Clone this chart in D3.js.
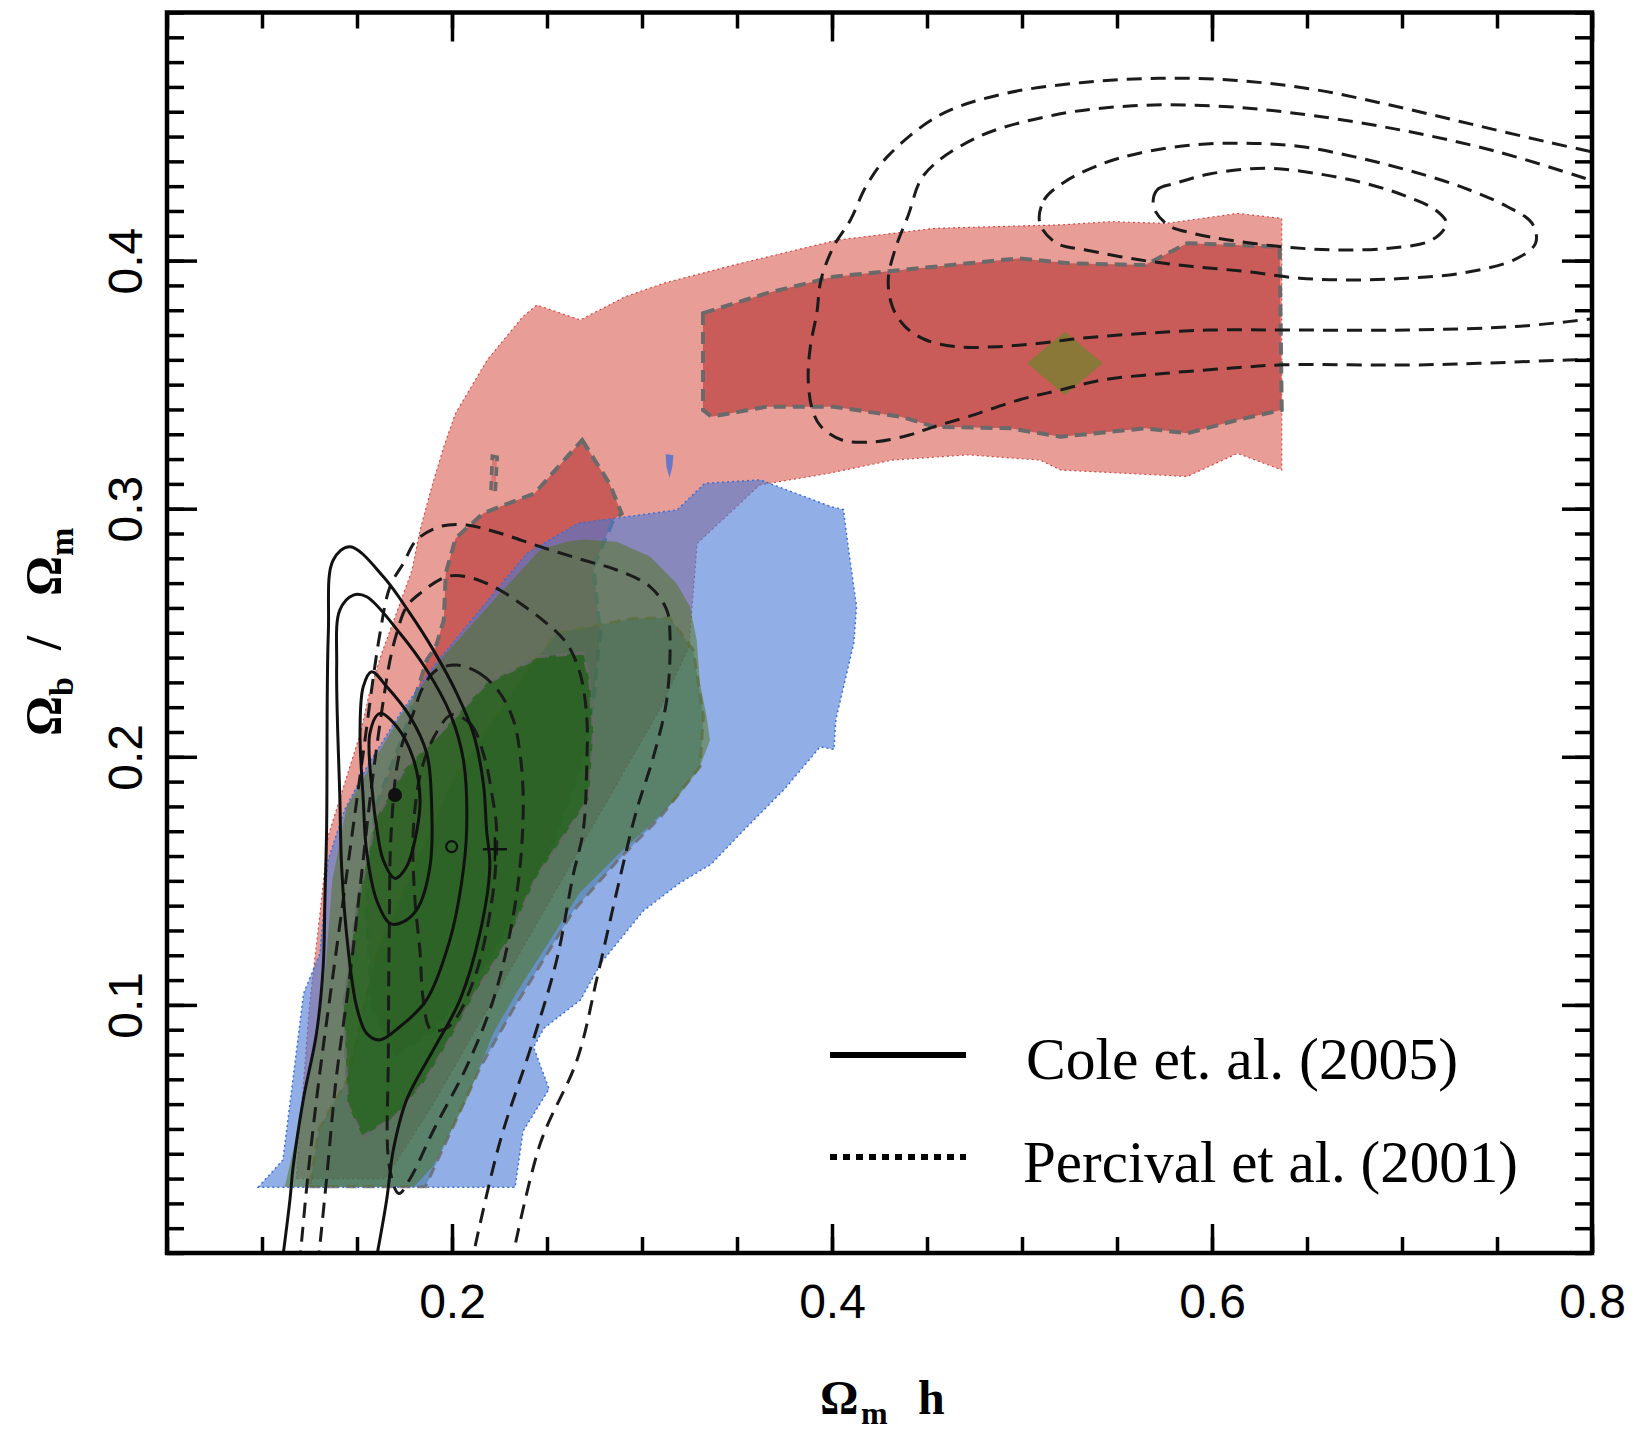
<!DOCTYPE html>
<html><head><meta charset="utf-8">
<script src="https://cdn.jsdelivr.net/npm/d3@7"></script>
<style>body{margin:0;background:#fff}</style>
</head><body>
<svg id="chart" width="1637" height="1435"></svg>
<script>
// ---------- data (Omega_m h , Omega_b/Omega_m) ----------
const xTickLabels = [0.2, 0.4, 0.6, 0.8];
const yTickLabels = [0.1, 0.2, 0.3, 0.4];
const legendLabels = ["Cole et. al. (2005)", "Percival et al. (2001)"];

const redOuter = [[0.118,0.03],[0.121,0.06],[0.125,0.1],[0.131,0.14],[0.1348,0.168],[0.143,0.188],[0.152,0.21],[0.1561,0.2243],[0.1624,0.2404],[0.1707,0.2578],[0.179,0.2753],[0.1832,0.2914],[0.1894,0.3089],[0.1957,0.325],[0.2019,0.3385],[0.2186,0.36],[0.2373,0.3774],[0.2446,0.3821],[0.2675,0.3761],[0.2914,0.3855],[0.312,0.391],[0.352,0.3989],[0.403,0.4083],[0.454,0.413],[0.5204,0.4144],[0.547,0.4157],[0.576,0.415],[0.6135,0.419],[0.6367,0.417],[0.6367,0.3156],[0.6135,0.3223],[0.587,0.313],[0.5204,0.3156],[0.5094,0.3196],[0.4717,0.3217],[0.4318,0.3196],[0.3986,0.3143],[0.362,0.3096],[0.329,0.286],[0.3247,0.2444],[0.31,0.22],[0.28,0.18],[0.25,0.14],[0.22,0.1],[0.19,0.06],[0.165,0.03]];
const redInnerBand = [[0.3321,0.3788],[0.3654,0.3868],[0.4008,0.3935],[0.4362,0.3962],[0.4717,0.3989],[0.4983,0.4009],[0.5249,0.3989],[0.5647,0.3982],[0.5869,0.407],[0.6356,0.4056],[0.6367,0.3398],[0.6135,0.3358],[0.5869,0.3304],[0.5647,0.3324],[0.5204,0.329],[0.4938,0.3324],[0.454,0.333],[0.4362,0.3371],[0.4008,0.3411],[0.3654,0.3411],[0.3366,0.3371],[0.3321,0.3398]];
const redInnerLobe = [[0.2685,0.3277],[0.283,0.31],[0.2893,0.298],[0.2849,0.2954],[0.2744,0.2766],[0.2779,0.2498],[0.2744,0.2229],[0.2674,0.196],[0.25,0.16],[0.22,0.12],[0.19,0.09],[0.17,0.08],[0.158,0.1],[0.155,0.14],[0.16,0.18],[0.175,0.21],[0.1867,0.239],[0.1915,0.2444],[0.1957,0.2552],[0.1967,0.274],[0.2019,0.2881],[0.2165,0.2982],[0.2435,0.3062]];
const redInnerSpeck = [[0.2212,0.3212],[0.2238,0.3208],[0.2228,0.3068],[0.2205,0.3072]];
const blueOuter = [[0.098,0.0265],[0.111,0.0375],[0.1154,0.0644],[0.1219,0.1046],[0.1305,0.1208],[0.1348,0.1584],[0.1434,0.1785],[0.156,0.197],[0.1728,0.2175],[0.1915,0.2377],[0.2394,0.282],[0.2664,0.2941],[0.3185,0.2995],[0.333,0.3102],[0.3622,0.3116],[0.3996,0.3008],[0.406,0.2996],[0.4088,0.283],[0.4129,0.2607],[0.4115,0.246],[0.4047,0.2237],[0.402,0.215],[0.401,0.203],[0.3937,0.204],[0.375,0.187],[0.353,0.17],[0.3365,0.1568],[0.32,0.1492],[0.3007,0.1379],[0.2786,0.1171],[0.2676,0.102],[0.2484,0.0906],[0.2429,0.083],[0.2511,0.0661],[0.2374,0.0491],[0.2332,0.0265]];
const blueSpeck = [[0.3125,0.322],[0.3165,0.3215],[0.316,0.317],[0.3145,0.3125],[0.3128,0.317]];
const blueInner = [[0.125,0.0267],[0.186,0.0267],[0.2,0.05],[0.215,0.075],[0.232,0.098],[0.248,0.118],[0.264,0.138],[0.287,0.158],[0.31,0.176],[0.3305,0.196],[0.3323,0.2162],[0.327,0.243],[0.3147,0.2558],[0.2954,0.2558],[0.2551,0.2498],[0.24,0.235],[0.2,0.19],[0.16,0.12],[0.145,0.07],[0.13,0.05]];
const greenOuter = [[0.112,0.0267],[0.122,0.06],[0.13,0.09],[0.134,0.12],[0.137,0.15],[0.1446,0.1799],[0.1726,0.2162],[0.1937,0.239],[0.2253,0.2659],[0.2463,0.2834],[0.2604,0.2867],[0.2691,0.2876],[0.2867,0.2867],[0.3042,0.2807],[0.3182,0.2699],[0.3253,0.2605],[0.3288,0.247],[0.3305,0.2296],[0.334,0.2162],[0.3358,0.2068],[0.33,0.195],[0.318,0.183],[0.305,0.173],[0.288,0.161],[0.267,0.145],[0.2515,0.126],[0.234,0.105],[0.2217,0.0886],[0.2077,0.0617],[0.19,0.035],[0.18,0.0267]];
const greenInner = [[0.1937,0.2095],[0.2182,0.2296],[0.2463,0.2404],[0.2691,0.2417],[0.2726,0.2296],[0.2744,0.2095],[0.272,0.183],[0.2445,0.1517],[0.2287,0.1248],[0.213,0.106],[0.2007,0.0886],[0.1849,0.0684],[0.17,0.055],[0.153,0.047],[0.145,0.06],[0.143,0.1],[0.15,0.14],[0.16,0.175],[0.175,0.195]];
const bestFit = [0.5226, 0.3586];
const markerDot = [0.17, 0.1846];
const markerCircle = [0.1998, 0.1638];
const markerPlus = [0.2226, 0.1627];

// Cole et al. (2005) solid contours
const coleOpen = [[0.1104,-0.005],[0.1147,0.0214],[0.1164,0.0348],[0.1217,0.0617],[0.1287,0.0886],[0.1322,0.1154],[0.1331,0.1423],[0.134,0.1705],[0.1349,0.2498],[0.1375,0.2793],[0.1463,0.2847],[0.1639,0.2726],[0.1779,0.2578],[0.1902,0.243],[0.2025,0.2256],[0.2112,0.2095],[0.2165,0.1893],[0.2182,0.1705],[0.2199,0.1557],[0.2147,0.1289],[0.2042,0.102],[0.1901,0.0818],[0.1761,0.0617],[0.1691,0.0415],[0.1656,0.0214],[0.1595,-0.005]];
const coleClosed2 = [[0.1481,0.2652],[0.1551,0.2645],[0.1726,0.2498],[0.1867,0.235],[0.199,0.2175],[0.206,0.1987],[0.2077,0.1705],[0.205,0.149],[0.1989,0.1262],[0.1866,0.102],[0.1726,0.0912],[0.162,0.0859],[0.155,0.0886],[0.1498,0.0993],[0.1454,0.1221],[0.1419,0.1557],[0.141,0.1826],[0.1393,0.2363],[0.141,0.2592]];
const coleClosed3 = [[0.1577,0.2343],[0.1656,0.2283],[0.1779,0.2162],[0.1867,0.2014],[0.1892,0.1826],[0.1884,0.1557],[0.1814,0.1383],[0.1726,0.1329],[0.1673,0.1329],[0.1603,0.1423],[0.155,0.1624],[0.1533,0.1826],[0.1516,0.2095],[0.1533,0.2283]];
const coleClosed4 = [[0.1621,0.2175],[0.1709,0.2122],[0.1795,0.1995],[0.1832,0.1826],[0.1805,0.1665],[0.1761,0.1557],[0.17,0.151],[0.1638,0.1584],[0.1603,0.1718],[0.1585,0.1826],[0.1568,0.2095]];

// Percival et al. (2001) dashed contours
const percLow1 = [[0.1197,-0.005],[0.124,0.03],[0.13,0.07],[0.137,0.11],[0.145,0.155],[0.153,0.2],[0.1621,0.2498],[0.1674,0.2686],[0.1744,0.278],[0.1814,0.2874],[0.1937,0.2928],[0.2077,0.2934],[0.2253,0.2901],[0.2463,0.2847],[0.2691,0.2793],[0.2867,0.2753],[0.3042,0.2686],[0.313,0.2592],[0.3147,0.2498],[0.313,0.2229],[0.306,0.2],[0.297,0.178],[0.2873,0.1476],[0.2765,0.1114],[0.2658,0.0778],[0.2465,0.0442],[0.231,-0.005]];
const percLow2 = [[0.1294,-0.005],[0.134,0.03],[0.139,0.07],[0.146,0.11],[0.152,0.15],[0.158,0.19],[0.1639,0.2229],[0.1674,0.239],[0.1709,0.2498],[0.1761,0.2605],[0.1832,0.2659],[0.1972,0.2726],[0.2077,0.2726],[0.2218,0.2686],[0.2358,0.2619],[0.2498,0.2538],[0.2604,0.2457],[0.2674,0.2336],[0.2709,0.2162],[0.2709,0.196],[0.2691,0.1705],[0.2636,0.1517],[0.2551,0.1181],[0.2422,0.0845],[0.225,0.0442],[0.21,-0.005]];
const percLow3 = [[0.2025,0.237],[0.2147,0.2336],[0.2253,0.2256],[0.2323,0.2148],[0.2358,0.2014],[0.2375,0.1826],[0.2358,0.1557],[0.2305,0.1289],[0.2217,0.102],[0.2077,0.0751],[0.1906,0.05],[0.178,0.03],[0.172,0.024],[0.167,0.035],[0.1665,0.08],[0.167,0.13],[0.168,0.17],[0.172,0.2],[0.1796,0.2175],[0.1849,0.2283],[0.1919,0.235]];
const percLow4 = [[0.2,0.217],[0.21,0.213],[0.217,0.2],[0.221,0.185],[0.2235,0.17],[0.221,0.142],[0.211,0.109],[0.198,0.091],[0.189,0.09],[0.1849,0.102],[0.1831,0.1221],[0.1805,0.1423],[0.1796,0.17],[0.184,0.195],[0.192,0.21]];
const percHigh1 = [[0.805,0.3602],[0.7873,0.3599],[0.7403,0.3586],[0.7027,0.3579],[0.6378,0.358],[0.609,0.3566],[0.5758,0.3546],[0.5426,0.3519],[0.5204,0.3479],[0.4983,0.3438],[0.4717,0.3371],[0.454,0.3331],[0.4407,0.3297],[0.423,0.327],[0.4052,0.3277],[0.3942,0.3331],[0.3897,0.3398],[0.3875,0.3519],[0.3886,0.3653],[0.392,0.3788],[0.3942,0.3922],[0.4008,0.4056],[0.4097,0.4164],[0.418,0.43],[0.4294,0.4421],[0.4568,0.4587],[0.4897,0.4671],[0.5308,0.4717],[0.572,0.4735],[0.6131,0.4726],[0.6543,0.4689],[0.6954,0.4624],[0.7365,0.455],[0.7777,0.4476],[0.805,0.443]];
const percHigh2 = [[0.805,0.377],[0.7873,0.3754],[0.759,0.3734],[0.7027,0.372],[0.6463,0.372],[0.598,0.372],[0.5647,0.3707],[0.5315,0.3687],[0.5094,0.3667],[0.4872,0.3653],[0.465,0.3653],[0.4495,0.368],[0.4385,0.3734],[0.4318,0.3814],[0.4296,0.3922],[0.433,0.404],[0.44,0.418],[0.4486,0.4347],[0.476,0.4495],[0.5171,0.4587],[0.5583,0.4624],[0.5994,0.4624],[0.6405,0.4597],[0.6954,0.4532],[0.7502,0.4439],[0.805,0.431]];
const percHigh3 = [[0.5094,0.415],[0.5116,0.4244],[0.5226,0.4318],[0.5429,0.4392],[0.5617,0.4433],[0.5899,0.4466],[0.6181,0.4473],[0.6463,0.446],[0.6745,0.4419],[0.7027,0.4365],[0.7309,0.4298],[0.7553,0.4218],[0.7685,0.415],[0.7703,0.407],[0.759,0.4003],[0.7309,0.3949],[0.7027,0.3929],[0.6745,0.3922],[0.6463,0.3929],[0.6181,0.3956],[0.5899,0.3976],[0.5617,0.4003],[0.5335,0.4043],[0.5182,0.407]];
const percHigh4 = [[0.5692,0.4218],[0.5711,0.4285],[0.5805,0.4311],[0.5993,0.435],[0.6275,0.4372],[0.6557,0.435],[0.6839,0.4305],[0.7027,0.4258],[0.7177,0.4204],[0.7234,0.415],[0.7158,0.4083],[0.6933,0.405],[0.665,0.4043],[0.6369,0.4056],[0.6087,0.4083],[0.5899,0.411],[0.5767,0.4144]];

// ---------- drawing ----------
const svg = d3.select("#chart");
const x = d3.scaleLinear().domain([0.05, 0.8]).range([167, 1592]);
const y = d3.scaleLinear().domain([0, 0.5]).range([1253, 12.5]);

svg.append("defs").append("clipPath").attr("id","clip")
  .append("rect").attr("x",x(0.05)).attr("y",y(0.5))
  .attr("width",x(0.8)-x(0.05)).attr("height",y(0)-y(0.5));
const plot = svg.append("g").attr("clip-path","url(#clip)");

const polyLin = d3.line().x(d=>x(d[0])).y(d=>y(d[1])).curve(d3.curveLinearClosed);
const polySm  = d3.line().x(d=>x(d[0])).y(d=>y(d[1])).curve(d3.curveCatmullRomClosed.alpha(0.5));
const openSm  = d3.line().x(d=>x(d[0])).y(d=>y(d[1])).curve(d3.curveCatmullRom.alpha(0.5));

const GRAY = "#6a6a6a";
// red
plot.append("path").attr("d",polyLin(redOuter)).attr("fill","#e99d97")
  .attr("stroke","#d04a45").attr("stroke-width",1.2).attr("stroke-dasharray","2,3");
[redInnerBand, redInnerLobe].forEach(r=>{
  plot.append("path").attr("d",polyLin(r)).attr("fill","#c95b58")
    .attr("stroke",GRAY).attr("stroke-width",4).attr("stroke-dasharray","12,7");
});
plot.append("path").attr("d",polyLin(redInnerSpeck)).attr("fill","#d97a75")
  .attr("stroke",GRAY).attr("stroke-width",3.5).attr("stroke-dasharray","9,6");
// blue
plot.append("path").attr("d",polyLin(blueOuter)).attr("fill","rgba(72,122,214,0.6)")
  .attr("stroke","#3a6fd8").attr("stroke-width",1.5).attr("stroke-dasharray","2,3");
plot.append("path").attr("d",polyLin(blueSpeck)).attr("fill","rgba(72,110,214,0.8)");
plot.append("path").attr("d",polyLin(blueInner)).attr("fill","rgba(10,80,110,0.32)")
  .attr("stroke",GRAY).attr("stroke-width",3).attr("stroke-dasharray","11,7").attr("stroke-opacity",0.8);
// green
plot.append("path").attr("d",polyLin(greenOuter)).attr("fill","rgba(80,115,22,0.5)");
plot.append("path").attr("d",polyLin(greenInner)).attr("fill","rgba(30,95,20,0.7)")
  .attr("stroke",GRAY).attr("stroke-width",3).attr("stroke-dasharray","11,7").attr("stroke-opacity",0.8);

// best-fit diamond
plot.append("path")
  .attr("d", d3.symbol().type(d3.symbolSquare).size(2600)())
  .attr("transform",`translate(${x(bestFit[0])},${y(bestFit[1])}) scale(1.05,0.88) rotate(45)`)
  .attr("fill","#867a36").attr("opacity",0.95);

// Percival dashed contours
const dashStyle = s => s.attr("fill","none").attr("stroke","#1b1b1b").attr("stroke-width",3).attr("stroke-dasharray","15,9");
[percLow1, percLow2, percHigh1, percHigh2].forEach(c=>dashStyle(plot.append("path").attr("d",openSm(c))));
[percLow3, percLow4, percHigh3, percHigh4].forEach(c=>dashStyle(plot.append("path").attr("d",polySm(c))));

// Cole solid contours
const solidStyle = s => s.attr("fill","none").attr("stroke","#111").attr("stroke-width",3);
solidStyle(plot.append("path").attr("d",openSm(coleOpen)));
[coleClosed2, coleClosed3, coleClosed4].forEach(c=>solidStyle(plot.append("path").attr("d",polySm(c))));

// markers
plot.append("circle").attr("cx",x(markerDot[0])).attr("cy",y(markerDot[1])).attr("r",7).attr("fill","#111");
plot.append("circle").attr("cx",x(markerCircle[0])).attr("cy",y(markerCircle[1])).attr("r",5.5)
  .attr("fill","none").attr("stroke","#111").attr("stroke-width",2.2);
plot.append("path").attr("d",`M${x(markerPlus[0])-12},${y(markerPlus[1])}h24M${x(markerPlus[0])},${y(markerPlus[1])-12}v24`)
  .attr("stroke","#111").attr("stroke-width",2.5);

// ---------- axes ----------
const fmt = d3.format(".1f");
const xMinor = x.ticks(15), yMinor = y.ticks(50);
function styleAxis(g){ g.select(".domain").remove(); g.selectAll("line").attr("stroke","#000").attr("stroke-width",3.5); }
const tickFont = "'Liberation Sans', Arial, sans-serif";

svg.append("g").attr("transform",`translate(0,${y(0)})`)
  .call(d3.axisBottom(x).tickValues(xMinor).tickSize(-16).tickFormat("")).call(styleAxis);
svg.append("g").attr("transform",`translate(0,${y(0)})`)
  .call(d3.axisBottom(x).tickValues(xTickLabels).tickSize(-29).tickPadding(31).tickFormat(fmt))
  .call(styleAxis)
  .call(g=>g.selectAll("text").attr("font-size",48).attr("font-family",tickFont).attr("fill","#000"));
svg.append("g").attr("transform",`translate(0,${y(0.5)})`)
  .call(d3.axisTop(x).tickValues(xMinor).tickSize(-16).tickFormat("")).call(styleAxis);
svg.append("g").attr("transform",`translate(0,${y(0.5)})`)
  .call(d3.axisTop(x).tickValues(xTickLabels).tickSize(-29).tickFormat("")).call(styleAxis);

svg.append("g").attr("transform",`translate(${x(0.05)},0)`)
  .call(d3.axisLeft(y).tickValues(yMinor).tickSize(-17).tickFormat("")).call(styleAxis);
svg.append("g").attr("transform",`translate(${x(0.05)},0)`)
  .call(d3.axisLeft(y).tickValues(yTickLabels).tickSize(-30).tickFormat(fmt))
  .call(styleAxis)
  .call(g=>g.selectAll("text").attr("x",null).attr("dy",null).attr("text-anchor","middle")
      .attr("transform","translate(-25,0) rotate(-90)")
      .attr("font-size",48).attr("font-family",tickFont).attr("fill","#000"));
svg.append("g").attr("transform",`translate(${x(0.8)},0)`)
  .call(d3.axisRight(y).tickValues(yMinor).tickSize(-17).tickFormat("")).call(styleAxis);
svg.append("g").attr("transform",`translate(${x(0.8)},0)`)
  .call(d3.axisRight(y).tickValues(yTickLabels).tickSize(-30).tickFormat("")).call(styleAxis);

svg.append("rect").attr("x",x(0.05)).attr("y",y(0.5))
  .attr("width",x(0.8)-x(0.05)).attr("height",y(0)-y(0.5))
  .attr("fill","none").attr("stroke","#000").attr("stroke-width",4.5);

// axis titles
const serif = "'Liberation Serif', 'DejaVu Serif', serif";
const xt = svg.append("text").attr("y",1414).attr("font-family",serif).attr("font-weight","bold").attr("font-size",48);
xt.append("tspan").attr("x",820).text("Ω");
xt.append("tspan").attr("x",861).attr("dy",10).attr("font-size",32).text("m");
xt.append("tspan").attr("x",918).attr("dy",-10).text("h");

const yt = svg.append("text").attr("transform","translate(60,736) rotate(-90)")
  .attr("font-family",serif).attr("font-weight","bold").attr("font-size",50);
yt.append("tspan").attr("x",0).text("Ω");
yt.append("tspan").attr("x",40).attr("dy",13).attr("font-size",34).text("b");
yt.append("tspan").attr("x",86).attr("dy",-13).text("/");
yt.append("tspan").attr("x",140).text("Ω");
yt.append("tspan").attr("x",180).attr("dy",13).attr("font-size",34).text("m");

// legend
const lg = svg.append("g");
lg.append("line").attr("x1",830).attr("x2",966).attr("y1",1055).attr("y2",1055)
  .attr("stroke","#000").attr("stroke-width",6);
lg.append("line").attr("x1",830).attr("x2",966).attr("y1",1157).attr("y2",1157)
  .attr("stroke","#000").attr("stroke-width",6).attr("stroke-dasharray","7,6");
lg.append("text").attr("x",1026).attr("y",1079).attr("font-family",serif).attr("font-size",60)
  .attr("textLength",432).attr("lengthAdjust","spacingAndGlyphs").text(legendLabels[0]);
lg.append("text").attr("x",1023).attr("y",1182).attr("font-family",serif).attr("font-size",60)
  .attr("textLength",495).attr("lengthAdjust","spacingAndGlyphs").text(legendLabels[1]);
</script>
</body></html>
